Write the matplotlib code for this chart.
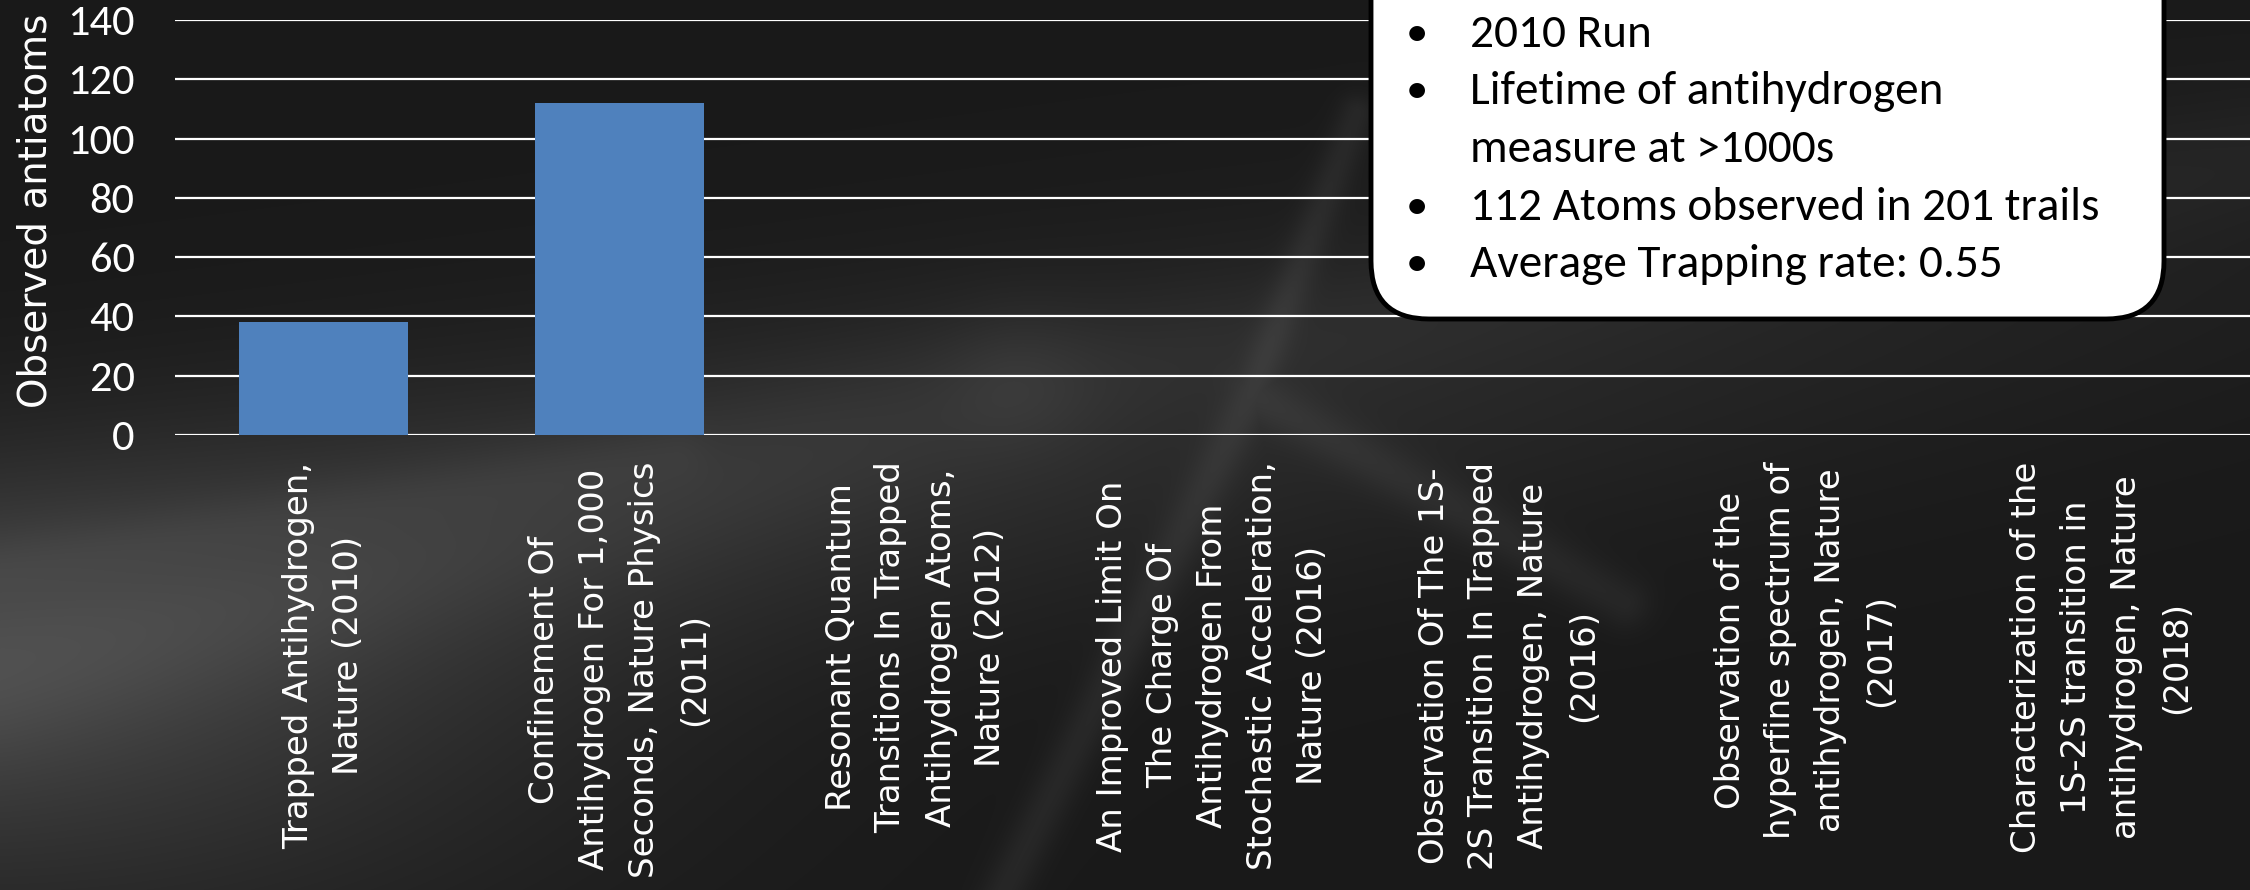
import numpy as np
import matplotlib.pyplot as plt
from matplotlib.patches import FancyBboxPatch
from matplotlib.transforms import IdentityTransform

# ALPHA papers and the number of trapped antiatoms reported
papers = [
    "Trapped Antihydrogen,\nNature (2010)",
    "Confinement Of\nAntihydrogen For 1,000\nSeconds, Nature Physics\n(2011)",
    "Resonant Quantum\nTransitions In Trapped\nAntihydrogen Atoms,\nNature (2012)",
    "An Improved Limit On\nThe Charge Of\nAntihydrogen From\nStochastic Acceleration,\nNature (2016)",
    "Observation Of The 1S-\n2S Transition In Trapped\nAntihydrogen, Nature\n(2016)",
    "Observation of the\nhyperfine spectrum of\nantihydrogen, Nature\n(2017)",
    "Characterization of the\n1S-2S transition in\nantihydrogen, Nature\n(2018)",
]
antiatoms = [38, 112, np.nan, np.nan, np.nan, np.nan, np.nan]
yticks = [0, 20, 40, 60, 80, 100, 120, 140]

notes = [
    ["2010 Run"],
    ["Lifetime of antihydrogen", "measure at >1000s"],
    ["112 Atoms observed in 201 trails"],
    ["Average Trapping rate: 0.55"],
]

narrow = ["Carlito", "Liberation Sans Narrow", "DejaVu Sans"]

W, H, DPI = 2250, 890, 100
fig = plt.figure(figsize=(W / DPI, H / DPI), dpi=DPI)


def streak(u, v, p0, p1, sigma):
    # soft glow around the segment p0-p1
    (u0, v0), (u1, v1) = p0, p1
    du, dv = u1 - u0, v1 - v0
    t = np.clip(((u - u0) * du + (v - v0) * dv) / (du * du + dv * dv), 0, 1)
    d2 = (u - u0 - t * du) ** 2 + (v - v0 - t * dv) ** 2
    return np.exp(-d2 / (2 * sigma ** 2))


# dark smoky backdrop (u across, v down, both in units of the width)
v, u = np.mgrid[0:H, 0:W] / W
vf = v * W / H
bg = 0.10 + 0.12 * np.exp(-((vf - 0.68 + 0.40 * u) ** 2) / (2 * 0.14 ** 2)) * (1 - 0.8 * u)
bg += 0.09 * np.exp(-((u - 0.02) ** 2 + (vf - 0.85) ** 2) / (2 * 0.17 ** 2))
fibres = np.maximum.reduce([
    0.05 * streak(u, v, (0.603, 0.05), (0.556, 0.175), 0.006),
    0.05 * streak(u, v, (0.556, 0.175), (0.444, 0.40), 0.007),
    0.045 * streak(u, v, (0.556, 0.175), (0.722, 0.268), 0.008),
])
bg += fibres
bg += 0.035 * streak(u, v, (0.0, 0.30), (0.45, 0.17), 0.025)
bg += 0.025 * streak(u, v, (0.45, 0.17), (1.0, 0.07), 0.02)
bg += 0.02 * streak(u, v, (0.0, 0.25), (0.30, 0.20), 0.01)
bg = np.clip(bg, 0, 1)
bgax = fig.add_axes([0, 0, 1, 1], zorder=-10)
bgax.imshow(np.dstack([bg, bg, bg]), aspect="auto", extent=[0, 1, 0, 1])
bgax.axis("off")

ax = fig.add_axes([175 / W, 1 - 435 / H, (W - 175) / W, (435 - 20) / H])
ax.patch.set_alpha(0)
x = np.arange(len(papers))
ax.bar(x, antiatoms, width=0.57, color="#4F81BD", zorder=3)
ax.set_xlim(-0.5, len(papers) - 0.5)
ax.set_ylim(0, 140)
ax.set_yticks(yticks)
ax.yaxis.grid(True, color="white", linewidth=1.6, zorder=0)
ax.set_axisbelow(True)
for s in ax.spines.values():
    s.set_visible(False)
ax.tick_params(length=0)
ax.tick_params(axis="y", pad=29, labelcolor="white", labelsize=32)
for t in ax.get_yticklabels():
    t.set_family(narrow)
ax.set_xticks(x)
ax.set_xticklabels(papers, rotation=90, ha="center", va="top", multialignment="center",
                   color="white", fontsize=24.5, family="DejaVu Sans", linespacing=1.65)
ax.tick_params(axis="x", pad=19)
ax.set_ylabel("Observed antiatoms", color="white", fontsize=28, family="DejaVu Sans", va="center")
ax.yaxis.set_label_coords(-0.067, 0.54)

# rounded note box at the top right
box = FancyBboxPatch((1371, H - 319), 2164 - 1371, 420,
                     boxstyle="round,pad=0,rounding_size=58",
                     transform=IdentityTransform(), facecolor="white",
                     edgecolor="black", linewidth=3.5, zorder=5)
fig.patches.append(box)

base = H - 47
for note in notes:
    fig.text(1417 / W, (base + 1) / H, "\u2022", color="black", fontsize=32, ha="center",
             va="baseline", family=narrow, zorder=6)
    for line in note:
        fig.text(1470 / W, base / H, line, color="black", fontsize=34, va="baseline",
                 family=narrow, zorder=6)
        base -= 57.5

fig.savefig("out.png", dpi=DPI)
